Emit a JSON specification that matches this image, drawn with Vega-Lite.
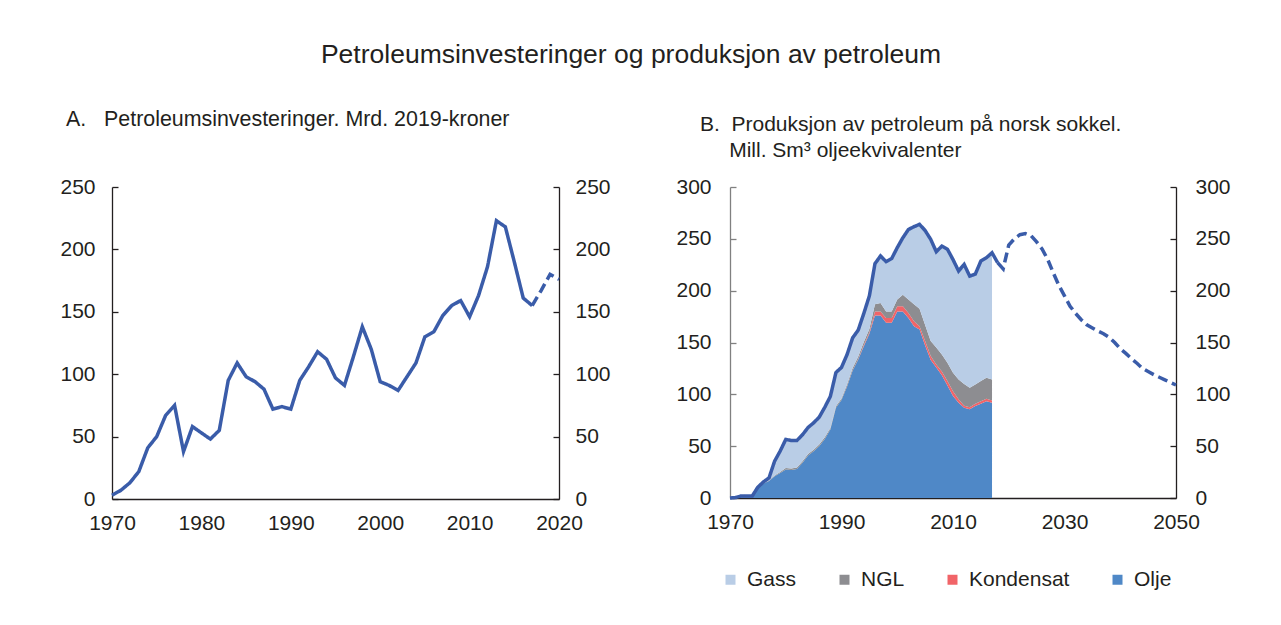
{
  "$schema": "https://vega.github.io/schema/vega-lite/v6.json",
  "padding": {"left": 59, "top": 42, "right": 0, "bottom": 0},
  "bounds": "flush",
  "spacing": 171,
  "title": {"text": "Petroleumsinvesteringer og produksjon av petroleum", "fontSize": 26.5, "anchor": "middle", "offset": 40, "dx": -14},
  "hconcat": [
    {
      "width": 447,
      "height": 312,
      "title": {"text": "A.\u00a0\u00a0\u00a0Petroleumsinvesteringer. Mrd. 2019-kroner", "anchor": "start", "frame": "group", "dx": -46, "offset": 46, "fontSize": 21.4},
      "data": {"values": [
        {"year": 1970, "value": 3, "serie": "Faktisk"},
        {"year": 1971, "value": 7, "serie": "Faktisk"},
        {"year": 1972, "value": 13, "serie": "Faktisk"},
        {"year": 1973, "value": 22, "serie": "Faktisk"},
        {"year": 1974, "value": 41, "serie": "Faktisk"},
        {"year": 1975, "value": 50, "serie": "Faktisk"},
        {"year": 1976, "value": 67, "serie": "Faktisk"},
        {"year": 1977, "value": 75, "serie": "Faktisk"},
        {"year": 1978, "value": 38, "serie": "Faktisk"},
        {"year": 1979, "value": 58, "serie": "Faktisk"},
        {"year": 1980, "value": 53, "serie": "Faktisk"},
        {"year": 1981, "value": 48, "serie": "Faktisk"},
        {"year": 1982, "value": 55, "serie": "Faktisk"},
        {"year": 1983, "value": 95, "serie": "Faktisk"},
        {"year": 1984, "value": 109, "serie": "Faktisk"},
        {"year": 1985, "value": 98, "serie": "Faktisk"},
        {"year": 1986, "value": 94, "serie": "Faktisk"},
        {"year": 1987, "value": 88, "serie": "Faktisk"},
        {"year": 1988, "value": 72, "serie": "Faktisk"},
        {"year": 1989, "value": 74, "serie": "Faktisk"},
        {"year": 1990, "value": 72, "serie": "Faktisk"},
        {"year": 1991, "value": 95, "serie": "Faktisk"},
        {"year": 1992, "value": 106, "serie": "Faktisk"},
        {"year": 1993, "value": 118, "serie": "Faktisk"},
        {"year": 1994, "value": 112, "serie": "Faktisk"},
        {"year": 1995, "value": 97, "serie": "Faktisk"},
        {"year": 1996, "value": 91, "serie": "Faktisk"},
        {"year": 1997, "value": 114, "serie": "Faktisk"},
        {"year": 1998, "value": 138, "serie": "Faktisk"},
        {"year": 1999, "value": 120, "serie": "Faktisk"},
        {"year": 2000, "value": 94, "serie": "Faktisk"},
        {"year": 2001, "value": 91, "serie": "Faktisk"},
        {"year": 2002, "value": 87, "serie": "Faktisk"},
        {"year": 2003, "value": 98, "serie": "Faktisk"},
        {"year": 2004, "value": 109, "serie": "Faktisk"},
        {"year": 2005, "value": 130, "serie": "Faktisk"},
        {"year": 2006, "value": 134, "serie": "Faktisk"},
        {"year": 2007, "value": 147, "serie": "Faktisk"},
        {"year": 2008, "value": 155, "serie": "Faktisk"},
        {"year": 2009, "value": 159, "serie": "Faktisk"},
        {"year": 2010, "value": 146, "serie": "Faktisk"},
        {"year": 2011, "value": 163, "serie": "Faktisk"},
        {"year": 2012, "value": 186, "serie": "Faktisk"},
        {"year": 2013, "value": 223, "serie": "Faktisk"},
        {"year": 2014, "value": 218, "serie": "Faktisk"},
        {"year": 2015, "value": 190, "serie": "Faktisk"},
        {"year": 2016, "value": 161, "serie": "Faktisk"},
        {"year": 2017, "value": 155, "serie": "Faktisk"},
        {"year": 2017, "value": 155, "serie": "Anslag"},
        {"year": 2018, "value": 167, "serie": "Anslag"},
        {"year": 2019, "value": 180, "serie": "Anslag"},
        {"year": 2020, "value": 176, "serie": "Anslag"}
      ]},
      "layer": [
        {
          "mark": {"type": "line", "strokeWidth": 3.5, "color": "#3a5ca9", "strokeCap": "butt"},
          "encoding": {
            "x": {"field": "year", "type": "quantitative", "scale": {"domain": [1970, 2020], "nice": false}, "axis": {"values": [1970, 1980, 1990, 2000, 2010, 2020], "format": "d", "ticks": false, "labelFlush": false, "labelPadding": 13, "title": null}},
            "y": {"field": "value", "type": "quantitative", "scale": {"domain": [0, 250], "nice": false}, "axis": {"orient": "left", "values": [0, 50, 100, 150, 200, 250], "tickSize": -6, "labelPadding": 23, "title": null}},
            "strokeDash": {"field": "serie", "type": "nominal", "scale": {"domain": ["Faktisk", "Anslag"], "range": [[1, 0], [10, 5]]}, "legend": null}
          }
        },
        {
          "mark": {"type": "line", "opacity": 0},
          "encoding": {
            "x": {"field": "year", "type": "quantitative", "scale": {"domain": [1970, 2020], "nice": false}},
            "y": {"field": "value", "type": "quantitative", "scale": {"domain": [0, 250], "nice": false}, "axis": {"orient": "right", "values": [0, 50, 100, 150, 200, 250], "tickSize": -6, "labelPadding": 22, "title": null}},
            "detail": {"field": "serie", "type": "nominal"}
          }
        }
      ],
      "resolve": {"scale": {"y": "independent"}}
    },
    {
      "width": 446,
      "height": 311,
      "title": {"text": ["B.\u00a0\u00a0Produksjon av petroleum på norsk sokkel.", "\u200b\u00a0\u00a0\u00a0\u00a0\u00a0Mill. Sm³ oljeekvivalenter"], "anchor": "start", "frame": "group", "dx": -30, "offset": 15, "fontSize": 21, "lineHeight": 26},
      "layer": [
        {
          "data": {"values": [
            {"year": 1970, "Olje": 0, "Kondensat": 0, "NGL": 0, "Gass": 0},
            {"year": 1971, "Olje": 0.4, "Kondensat": 0, "NGL": 0, "Gass": 0},
            {"year": 1972, "Olje": 1.9, "Kondensat": 0, "NGL": 0, "Gass": 0.1},
            {"year": 1973, "Olje": 1.9, "Kondensat": 0, "NGL": 0, "Gass": 0.1},
            {"year": 1974, "Olje": 2, "Kondensat": 0, "NGL": 0, "Gass": 0},
            {"year": 1975, "Olje": 10.5, "Kondensat": 0, "NGL": 0, "Gass": 0},
            {"year": 1976, "Olje": 14, "Kondensat": 0, "NGL": 0.2, "Gass": 1.3},
            {"year": 1977, "Olje": 16.5, "Kondensat": 0, "NGL": 0.4, "Gass": 2.5},
            {"year": 1978, "Olje": 21, "Kondensat": 0, "NGL": 0.8, "Gass": 13.7},
            {"year": 1979, "Olje": 24, "Kondensat": 0, "NGL": 1, "Gass": 20.3},
            {"year": 1980, "Olje": 27.5, "Kondensat": 0, "NGL": 1.5, "Gass": 27.5},
            {"year": 1981, "Olje": 27, "Kondensat": 0, "NGL": 1.5, "Gass": 27},
            {"year": 1982, "Olje": 28, "Kondensat": 0, "NGL": 1.5, "Gass": 26},
            {"year": 1983, "Olje": 34, "Kondensat": 0, "NGL": 1.5, "Gass": 25.5},
            {"year": 1984, "Olje": 41, "Kondensat": 0, "NGL": 1.5, "Gass": 25.5},
            {"year": 1985, "Olje": 45, "Kondensat": 0, "NGL": 1.5, "Gass": 26},
            {"year": 1986, "Olje": 50, "Kondensat": 0, "NGL": 1.5, "Gass": 26.5},
            {"year": 1987, "Olje": 57, "Kondensat": 0, "NGL": 1.5, "Gass": 29},
            {"year": 1988, "Olje": 66, "Kondensat": 0, "NGL": 1.5, "Gass": 30.5},
            {"year": 1989, "Olje": 87, "Kondensat": 0.1, "NGL": 1.5, "Gass": 32.4},
            {"year": 1990, "Olje": 94.5, "Kondensat": 0.1, "NGL": 1.5, "Gass": 29.9},
            {"year": 1991, "Olje": 107.5, "Kondensat": 0.2, "NGL": 2, "Gass": 28.7},
            {"year": 1992, "Olje": 123, "Kondensat": 0.3, "NGL": 2, "Gass": 29.2},
            {"year": 1993, "Olje": 133.5, "Kondensat": 0.5, "NGL": 2.5, "Gass": 25.5},
            {"year": 1994, "Olje": 146.5, "Kondensat": 1, "NGL": 3, "Gass": 27.5},
            {"year": 1995, "Olje": 158.5, "Kondensat": 1.5, "NGL": 3, "Gass": 32},
            {"year": 1996, "Olje": 176, "Kondensat": 4, "NGL": 7, "Gass": 39},
            {"year": 1997, "Olje": 176, "Kondensat": 4, "NGL": 8, "Gass": 45.5},
            {"year": 1998, "Olje": 169, "Kondensat": 4.6, "NGL": 6.4, "Gass": 48},
            {"year": 1999, "Olje": 169, "Kondensat": 4.6, "NGL": 6.4, "Gass": 51},
            {"year": 2000, "Olje": 180, "Kondensat": 5, "NGL": 6.5, "Gass": 50},
            {"year": 2001, "Olje": 180, "Kondensat": 5, "NGL": 11, "Gass": 55},
            {"year": 2002, "Olje": 173.6, "Kondensat": 4.8, "NGL": 13, "Gass": 67.6},
            {"year": 2003, "Olje": 165.6, "Kondensat": 4.8, "NGL": 16.6, "Gass": 74.7},
            {"year": 2004, "Olje": 162.5, "Kondensat": 3.1, "NGL": 17, "Gass": 81.4},
            {"year": 2005, "Olje": 147, "Kondensat": 4.4, "NGL": 15.6, "Gass": 91},
            {"year": 2006, "Olje": 133, "Kondensat": 4, "NGL": 14.5, "Gass": 98},
            {"year": 2007, "Olje": 126, "Kondensat": 2.8, "NGL": 16.4, "Gass": 92.4},
            {"year": 2008, "Olje": 118.5, "Kondensat": 3.5, "NGL": 16.5, "Gass": 104.5},
            {"year": 2009, "Olje": 108.5, "Kondensat": 4.3, "NGL": 17.7, "Gass": 109.5},
            {"year": 2010, "Olje": 98.5, "Kondensat": 4.5, "NGL": 17.8, "Gass": 109.2},
            {"year": 2011, "Olje": 92, "Kondensat": 3.2, "NGL": 19.2, "Gass": 104.6},
            {"year": 2012, "Olje": 87, "Kondensat": 2, "NGL": 21, "Gass": 115.3},
            {"year": 2013, "Olje": 85.5, "Kondensat": 2, "NGL": 18.8, "Gass": 107.7},
            {"year": 2014, "Olje": 88.7, "Kondensat": 2.3, "NGL": 18.5, "Gass": 106.5},
            {"year": 2015, "Olje": 91, "Kondensat": 2.4, "NGL": 19.4, "Gass": 115.8},
            {"year": 2016, "Olje": 93.4, "Kondensat": 2.3, "NGL": 20.3, "Gass": 115.8},
            {"year": 2017, "Olje": 92, "Kondensat": 2, "NGL": 20.4, "Gass": 122.2}
          ]},
          "transform": [
            {"fold": ["Olje", "Kondensat", "NGL", "Gass"], "as": ["Type", "value"]},
            {"lookup": "Type", "from": {"data": {"values": [
              {"Type": "Olje", "rank": 1},
              {"Type": "Kondensat", "rank": 2},
              {"Type": "NGL", "rank": 3},
              {"Type": "Gass", "rank": 4}
            ]}, "key": "Type", "fields": ["rank"]}}
          ],
          "mark": {"type": "area"},
          "encoding": {
            "x": {"field": "year", "type": "quantitative", "scale": {"domain": [1970, 2050], "nice": false}, "axis": {"values": [1970, 1990, 2010, 2030, 2050], "format": "d", "ticks": false, "labelFlush": false, "labelPadding": 13, "title": null}},
            "y": {"field": "value", "type": "quantitative", "stack": "zero", "scale": {"domain": [0, 300], "nice": false}, "axis": {"orient": "left", "values": [0, 50, 100, 150, 200, 250, 300], "tickSize": -6, "labelPadding": 25, "domainColor": "#808080", "tickColor": "#808080", "title": null}},
            "color": {"field": "Type", "type": "nominal", "scale": {"domain": ["Gass", "NGL", "Kondensat", "Olje"], "range": ["#b9cde6", "#8d8d91", "#f16468", "#4f88c7"]}, "legend": {"orient": "none", "legendX": 608, "legendY": 382, "direction": "horizontal", "title": null, "symbolType": "square", "symbolSize": 100, "symbolStrokeWidth": 0, "labelFontSize": 21, "labelOffset": 6, "columnPadding": 37}},
            "order": {"field": "rank", "type": "quantitative"}
          }
        },
        {
          "data": {"name": "total"},
          "mark": {"type": "line", "strokeWidth": 3.5, "color": "#3a5ca9", "strokeCap": "butt"},
          "encoding": {
            "x": {"field": "year", "type": "quantitative", "scale": {"domain": [1970, 2050], "nice": false}},
            "y": {"field": "value", "type": "quantitative", "scale": {"domain": [0, 300], "nice": false}, "axis": null},
            "strokeDash": {"field": "serie", "type": "nominal", "scale": {"domain": ["Historisk", "Framskrivning"], "range": [[1, 0], [10, 5]]}, "legend": null}
          }
        },
        {
          "data": {"name": "total"},
          "mark": {"type": "line", "opacity": 0},
          "encoding": {
            "x": {"field": "year", "type": "quantitative", "scale": {"domain": [1970, 2050], "nice": false}},
            "y": {"field": "value", "type": "quantitative", "scale": {"domain": [0, 300], "nice": false}, "axis": {"orient": "right", "values": [0, 50, 100, 150, 200, 250, 300], "tickSize": -6, "labelPadding": 25, "title": null}},
            "detail": {"field": "serie", "type": "nominal"}
          }
        }
      ],
      "resolve": {"scale": {"y": "independent"}}
    }
  ],
  "datasets": {
    "total": [
      {"year": 1970, "value": 0, "serie": "Historisk"},
      {"year": 1971, "value": 0.4, "serie": "Historisk"},
      {"year": 1972, "value": 2, "serie": "Historisk"},
      {"year": 1973, "value": 2, "serie": "Historisk"},
      {"year": 1974, "value": 2, "serie": "Historisk"},
      {"year": 1975, "value": 10.5, "serie": "Historisk"},
      {"year": 1976, "value": 15.5, "serie": "Historisk"},
      {"year": 1977, "value": 19.4, "serie": "Historisk"},
      {"year": 1978, "value": 35.5, "serie": "Historisk"},
      {"year": 1979, "value": 45.3, "serie": "Historisk"},
      {"year": 1980, "value": 56.5, "serie": "Historisk"},
      {"year": 1981, "value": 55.5, "serie": "Historisk"},
      {"year": 1982, "value": 55.5, "serie": "Historisk"},
      {"year": 1983, "value": 61, "serie": "Historisk"},
      {"year": 1984, "value": 68, "serie": "Historisk"},
      {"year": 1985, "value": 72.5, "serie": "Historisk"},
      {"year": 1986, "value": 78, "serie": "Historisk"},
      {"year": 1987, "value": 87.5, "serie": "Historisk"},
      {"year": 1988, "value": 98, "serie": "Historisk"},
      {"year": 1989, "value": 121, "serie": "Historisk"},
      {"year": 1990, "value": 126, "serie": "Historisk"},
      {"year": 1991, "value": 138.4, "serie": "Historisk"},
      {"year": 1992, "value": 154.5, "serie": "Historisk"},
      {"year": 1993, "value": 162, "serie": "Historisk"},
      {"year": 1994, "value": 178, "serie": "Historisk"},
      {"year": 1995, "value": 195, "serie": "Historisk"},
      {"year": 1996, "value": 226, "serie": "Historisk"},
      {"year": 1997, "value": 233.5, "serie": "Historisk"},
      {"year": 1998, "value": 228, "serie": "Historisk"},
      {"year": 1999, "value": 231, "serie": "Historisk"},
      {"year": 2000, "value": 241.5, "serie": "Historisk"},
      {"year": 2001, "value": 251, "serie": "Historisk"},
      {"year": 2002, "value": 259, "serie": "Historisk"},
      {"year": 2003, "value": 261.7, "serie": "Historisk"},
      {"year": 2004, "value": 264, "serie": "Historisk"},
      {"year": 2005, "value": 258, "serie": "Historisk"},
      {"year": 2006, "value": 249.5, "serie": "Historisk"},
      {"year": 2007, "value": 237.6, "serie": "Historisk"},
      {"year": 2008, "value": 243, "serie": "Historisk"},
      {"year": 2009, "value": 240, "serie": "Historisk"},
      {"year": 2010, "value": 230, "serie": "Historisk"},
      {"year": 2011, "value": 219, "serie": "Historisk"},
      {"year": 2012, "value": 225.3, "serie": "Historisk"},
      {"year": 2013, "value": 214, "serie": "Historisk"},
      {"year": 2014, "value": 216, "serie": "Historisk"},
      {"year": 2015, "value": 228.6, "serie": "Historisk"},
      {"year": 2016, "value": 231.8, "serie": "Historisk"},
      {"year": 2017, "value": 236.6, "serie": "Historisk"},
      {"year": 2018, "value": 227, "serie": "Historisk"},
      {"year": 2018, "value": 227, "serie": "Framskrivning"},
      {"year": 2019, "value": 221, "serie": "Framskrivning"},
      {"year": 2020, "value": 244, "serie": "Framskrivning"},
      {"year": 2021, "value": 250, "serie": "Framskrivning"},
      {"year": 2022, "value": 254, "serie": "Framskrivning"},
      {"year": 2023, "value": 255, "serie": "Framskrivning"},
      {"year": 2024, "value": 253, "serie": "Framskrivning"},
      {"year": 2025, "value": 247, "serie": "Framskrivning"},
      {"year": 2026, "value": 240, "serie": "Framskrivning"},
      {"year": 2027, "value": 230, "serie": "Framskrivning"},
      {"year": 2028, "value": 217, "serie": "Framskrivning"},
      {"year": 2029, "value": 205, "serie": "Framskrivning"},
      {"year": 2030, "value": 195, "serie": "Framskrivning"},
      {"year": 2031, "value": 185, "serie": "Framskrivning"},
      {"year": 2032, "value": 178, "serie": "Framskrivning"},
      {"year": 2033, "value": 172, "serie": "Framskrivning"},
      {"year": 2034, "value": 167, "serie": "Framskrivning"},
      {"year": 2035, "value": 164, "serie": "Framskrivning"},
      {"year": 2036, "value": 161, "serie": "Framskrivning"},
      {"year": 2037, "value": 158.5, "serie": "Framskrivning"},
      {"year": 2038, "value": 155, "serie": "Framskrivning"},
      {"year": 2039, "value": 150, "serie": "Framskrivning"},
      {"year": 2040, "value": 144, "serie": "Framskrivning"},
      {"year": 2041, "value": 139.5, "serie": "Framskrivning"},
      {"year": 2042, "value": 134.5, "serie": "Framskrivning"},
      {"year": 2043, "value": 130, "serie": "Framskrivning"},
      {"year": 2044, "value": 125, "serie": "Framskrivning"},
      {"year": 2045, "value": 122, "serie": "Framskrivning"},
      {"year": 2046, "value": 119, "serie": "Framskrivning"},
      {"year": 2047, "value": 116.5, "serie": "Framskrivning"},
      {"year": 2048, "value": 114, "serie": "Framskrivning"},
      {"year": 2049, "value": 111.5, "serie": "Framskrivning"},
      {"year": 2050, "value": 109, "serie": "Framskrivning"}
    ]
  },
  "config": {
    "font": "Liberation Sans",
    "background": "white",
    "view": {"stroke": null},
    "axis": {"labelFont": "Liberation Sans", "labelFontSize": 21, "labelColor": "#231f20", "grid": false, "domainColor": "#231f20", "tickColor": "#231f20", "domainWidth": 1.3, "tickWidth": 1.3},
    "title": {"font": "Liberation Sans", "fontWeight": "normal", "color": "#231f20"},
    "legend": {"labelFont": "Liberation Sans", "labelColor": "#231f20"}
  }
}
